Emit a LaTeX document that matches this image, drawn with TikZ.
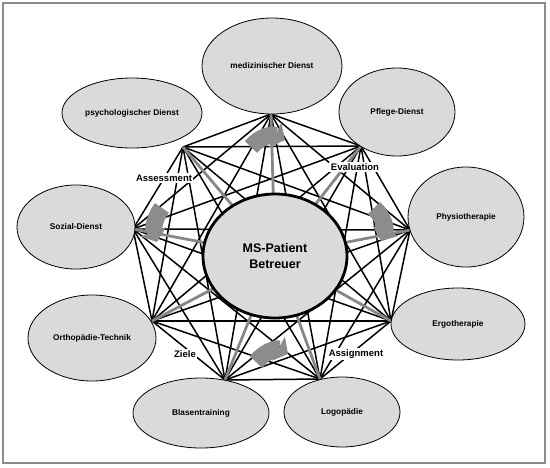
\documentclass[tikz,border=0pt]{standalone}
\usepackage{fontspec}
\setmainfont{Liberation Sans}
\usetikzlibrary{shapes.geometric, arrows.meta}

\definecolor{ellgrau}{RGB}{218,218,218}
\definecolor{speichengrau}{RGB}{135,135,135}
\definecolor{pfeilgrau}{RGB}{140,140,140}
\definecolor{rahmengrau}{RGB}{140,140,140}

\tikzset{
    dienst/.style={ellipse, draw=black, line width=0.8pt, fill=ellgrau, inner sep=0pt,
        font=\bfseries\fontsize{8.3}{10}\selectfont},
    kante/.style={black, line width=1.5pt},
    speiche/.style={speichengrau, line width=2.8pt},
    fluss/.style={pfeilgrau, line width=17pt, -{Triangle[width=27pt,length=11pt]}},
    marke/.style={fill=white, inner sep=1.5pt, font=\bfseries\fontsize{9.5}{11}\selectfont}
}

\begin{document}
\begin{tikzpicture}[x=1pt, y=-1pt]
    \useasboundingbox (0,0) rectangle (550,467);
    \draw[rahmengrau, line width=1.2pt] (3,3) rectangle (545,463);

    % Knotenpunkte am Rand der Ellipsen
    \coordinate (hmed) at (271,114);
    \coordinate (hpfl) at (361,146);
    \coordinate (hphy) at (410,230);
    \coordinate (herg) at (391,321);
    \coordinate (hlog) at (320,379);
    \coordinate (hbla) at (225,380);
    \coordinate (hort) at (152,321);
    \coordinate (hsoz) at (133,229);
    \coordinate (hpsy) at (183,147);
    \coordinate (mitte) at (275,256);

    % jeder mit jedem
    \foreach \a [count=\i] in {hmed,hpfl,hphy,herg,hlog,hbla,hort,hsoz,hpsy} {
        \foreach \b [count=\j] in {hmed,hpfl,hphy,herg,hlog,hbla,hort,hsoz,hpsy} {
            \ifnum\j>\i
                \draw[kante] (\a) -- (\b);
            \fi
        }
    }

    \foreach \h in {hmed,hpfl,hphy,herg,hlog,hbla,hort,hsoz,hpsy} {
        \draw[speiche] (\h) -- (mitte);
    }

    \node[dienst, minimum width=140pt, minimum height=96pt] (med) at (272,66) {medizinischer Dienst};
    \node[dienst, minimum width=140pt, minimum height=70pt] (psy) at (132,113) {psychologischer Dienst};
    \node[dienst, minimum width=116pt, minimum height=88pt] (pfl) at (397,112) {Pflege-Dienst};
    \node[dienst, minimum width=116pt, minimum height=100pt] (phy) at (466,217) {Physiotherapie};
    \node[dienst, minimum width=118pt, minimum height=84pt] (soz) at (76,227) {Sozial-Dienst};
    \node[dienst, minimum width=128pt, minimum height=86pt] (ort) at (92,338) {Orthopädie-Technik};
    \node[dienst, minimum width=136pt, minimum height=70pt] (bla) at (201,413) {Blasentraining};
    \node[dienst, minimum width=116pt, minimum height=70pt] (log) at (342,412) {Logopädie};
    \node[dienst, minimum width=134pt, minimum height=72pt] (erg) at (458,324) {Ergotherapie};

    \node[ellipse, draw=black, line width=2.8pt, fill=ellgrau, minimum width=144pt,
        minimum height=124pt, inner sep=0pt, align=center,
        font=\bfseries\fontsize{12.5}{16}\selectfont] (pat) at (mitte) {MS-Patient\\Betreuer};

    % Kreislauf
    \draw[fluss] (251,147) .. controls (260,136) and (273,134) .. (285,140);
    \draw[fluss] (374,208) .. controls (384,217) and (386,229) .. (381,241);
    \draw[fluss] (162,208) .. controls (154,218) and (153,231) .. (157,242);
    \draw[fluss] (256,362) .. controls (265,351) and (277,348) .. (288,354);

    \node[marke] (ass) at (164,178) {Assessment};
    \node[marke] (eva) at (355,167) {Evaluation};
    \node[marke] (zie) at (185,354) {Ziele};
    \node[marke] (asg) at (356,354) {Assignment};
\end{tikzpicture}
\end{document}
